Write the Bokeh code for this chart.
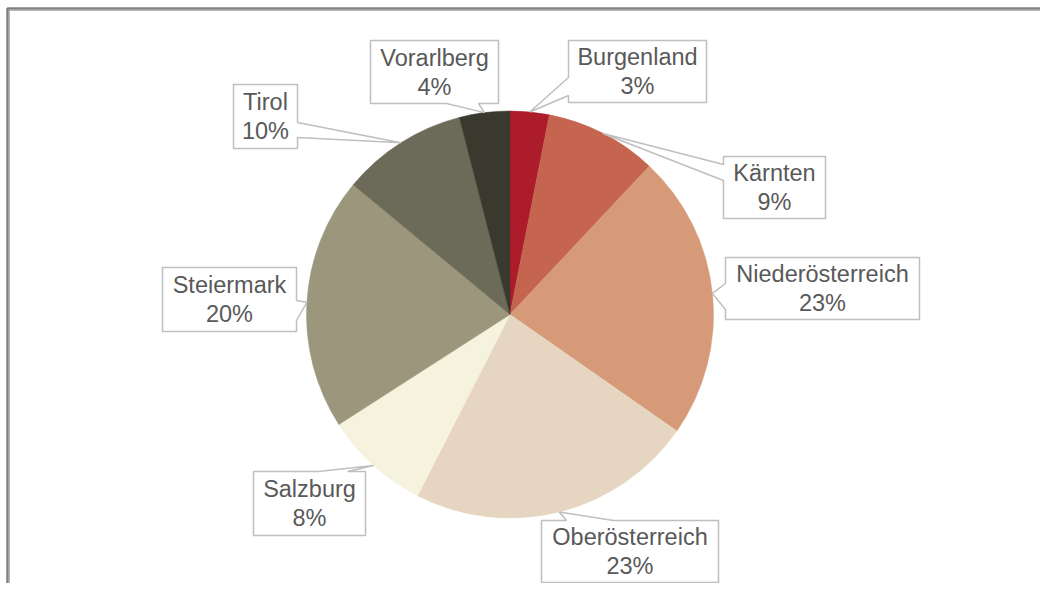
import math
from bokeh.plotting import figure
from bokeh.models import ColumnDataSource
from bokeh.core.properties import value
from bokeh.embed import file_html
from bokeh.resources import INLINE

# ---- data ----
regions = ["Burgenland", "Kärnten", "Niederösterreich", "Oberösterreich",
           "Salzburg", "Steiermark", "Tirol", "Vorarlberg"]
shares = [3.1, 8.9, 22.7, 22.8, 8.4, 20.1, 10.0, 4.0]
colors = ["#AD1C2B", "#C5654F", "#D69A79", "#E6D6C1",
          "#F5F2DD", "#9B967C", "#6C6A58", "#3A392E"]

# ---- layout (picture pixel coordinates) ----
W, H = 1040, 583
OFF = 0
CX, CY, R = 509.5, 314.0, 203.5
# callout boxes: left, top, right, bottom, edge of the pointer, pointer base
boxes = {
    "Burgenland":       (568, 40, 706, 102, "left", (77, 95)),
    "Kärnten":          (723, 156, 825, 218, "left", (164, 180)),
    "Niederösterreich": (725, 257, 919, 319, "left", (283, 309)),
    "Oberösterreich":   (541, 520, 718, 582, "top", (566, 613)),
    "Salzburg":         (253, 471, 365, 535, "top", (318, 347)),
    "Steiermark":       (162, 267, 296, 331, "right", (300, 320)),
    "Tirol":            (233, 84, 297, 148, "right", (122, 137)),
    "Vorarlberg":       (370, 40, 498, 103, "bottom", (446, 478)),
}


def px(X):
    return X - OFF


def py(Y):
    return H + OFF - Y


p = figure(width=W, height=H, x_range=(0, W), y_range=(0, H),
           output_backend="svg", toolbar_location=None, min_border=0)
p.axis.visible = False
p.grid.visible = False
p.outline_line_color = None
p.background_fill_color = "white"
p.border_fill_color = "white"

total = sum(shares)
starts, ends, mids = [], [], []
cum = 0.0
for v in shares:
    f0 = cum / total
    cum += v
    f1 = cum / total
    starts.append(math.pi / 2 - 2 * math.pi * f0)
    ends.append(math.pi / 2 - 2 * math.pi * f1)
    mids.append(math.pi / 2 - 2 * math.pi * (f0 + f1) / 2)

src = ColumnDataSource(dict(start=starts, end=ends, color=colors, region=regions))
p.wedge(x=px(CX), y=py(CY), radius=R, start_angle="start", end_angle="end",
        direction="clock", fill_color="color", line_color="color", line_width=0.5,
        source=src)

# callouts
xs_list, ys_list = [], []
tx, ty, tt = [], [], []
for name, v, ang in zip(regions, shares, mids):
    l, t, r, b, edge, (a1, a2) = boxes[name]
    tipX = CX + R * math.cos(ang)
    tipY = CY - R * math.sin(ang)
    tip = (tipX, tipY)
    pts = [(l, t)]
    if edge == "top":
        pts += [(a1, t), tip, (a2, t)]
    pts += [(r, t)]
    if edge == "right":
        pts += [(r, a1), tip, (r, a2)]
    pts += [(r, b)]
    if edge == "bottom":
        pts += [(a2, b), tip, (a1, b)]
    pts += [(l, b)]
    if edge == "left":
        pts += [(l, a2), tip, (l, a1)]
    xs_list.append([px(q[0]) for q in pts])
    ys_list.append([py(q[1]) for q in pts])
    cxb = (l + r) / 2
    cyb = (t + b) / 2
    pct = f"{round(v / total * 100)}%"
    tx += [px(cxb), px(cxb)]
    ty += [py(cyb - 14.5), py(cyb + 14.5)]
    tt += [name, pct]

p.patches(xs=xs_list, ys=ys_list, fill_color="white", line_color="#BFBFBF",
          line_width=1.5)
p.text(x=tx, y=ty, text=tt, text_align="center", text_baseline="middle",
       text_font=value("Liberation Sans"), text_font_size="23.5px",
       text_color="#595959")

# chart area border (only top and left visible in the window)
p.line(x=[px(7), px(7), W], y=[0, py(8), py(8)], line_color="#808080", line_width=2.5)
p.line(x=[px(8.8), px(8.8), W], y=[0, py(9.8), py(9.8)], line_color="#A6A6A6",
       line_width=1)

open("out.html", "w").write(file_html(p, INLINE))
